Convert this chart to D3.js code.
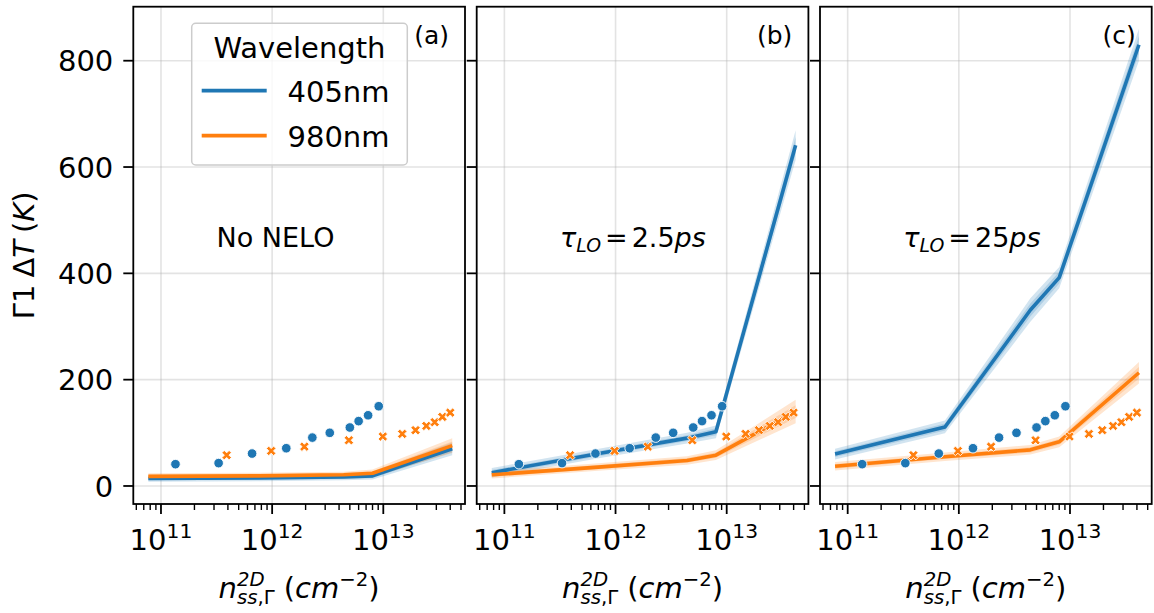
<!DOCTYPE html>
<html>
<head>
<meta charset="utf-8">
<script src="https://cdn.jsdelivr.net/npm/d3@7"></script>
<style>
  html, body { margin: 0; padding: 0; background: #fff; }
  svg { display: block; font-family: "DejaVu Sans", sans-serif; }
  text { fill: #000; }
</style>
</head>
<body>
<svg id="chart" width="1154" height="613"></svg>
<script>
// ---------------- data ----------------
const panelLabels = ["(a)", "(b)", "(c)"];
const wavelengths = ["405nm", "980nm"];
const colors = ["#1f77b4", "#ff7f0e"];
const yTicks = [0, 200, 400, 600, 800];
const xTicks = [1e11, 1e12, 1e13];
const xTickExp = ["11", "12", "13"];

// simulated densities (x of the model lines)
const simDensity = [7.7e10, 7.5e11, 4.4e12, 8.0e12, 4.17e13];
// panel (a) No NELO
const simA405 = [14, 15, 17, 19, 70];
const simA980 = [18, 19, 21, 24, 76];
const ciA405 = [6, 6, 6, 7, 12];
const ciA980 = [6, 6, 6, 7, 14];
// panel (b) tau_LO = 2.5 ps
const simB405 = [25, 62, 90, 102, 641];
const simB980 = [21, 36, 48, 58, 140];
const ciB405 = [9, 9, 10, 12, 28];
const ciB980 = [7, 7, 8, 9, 22];
// panel (c) tau_LO = 25 ps
const simC405 = [60, 111, 331, 392, 830];
const simC980 = [37, 55, 68, 83, 213];
const ciC405 = [10, 12, 22, 20, 30];
const ciC980 = [8, 8, 9, 10, 20];

// experimental points
const exp405X = [1.35e11, 3.3e11, 6.6e11, 1.34e12, 2.3e12, 3.3e12, 5.0e12, 6.0e12, 7.3e12, 9.1e12];
const exp405Y = [41, 43, 61, 71, 91, 100, 110, 122, 133, 150];
const exp980X = [3.9e11, 9.8e11, 1.95e12, 4.9e12, 9.9e12, 1.48e13, 1.95e13, 2.44e13, 2.9e13, 3.4e13, 4.0e13];
const exp980Y = [58, 66, 74, 86, 93, 98, 105, 113, 120, 130, 138];

// ---------------- layout ----------------
const svg = d3.select("#chart");
const panelLeft = [133.3, 476.7, 820];
const panelW = 331.7;
const plotTop = 6.7, plotBottom = 504;
const fsTick = 29, fsLabel = 29, fsAnnot = 27, fsPanel = 25;

const y = d3.scaleLinear().domain([-33.9, 901.6]).range([plotBottom, plotTop]);

// math-like text helper: one <text>, pieces as positioned tspans (sub/sup can stack)
function mathText(parent, pieces, size) {
  const grp = parent.append("g");
  const txt = grp.append("text");
  let cx = 0, prevStart = 0, prevW = 0;
  pieces.forEach(p => {
    const fs = size * (p.s || 1);
    const start = p.stack ? prevStart : cx + (p.gap || 0);
    const ts = txt.append("tspan")
      .attr("font-size", fs)
      .attr("x", start)
      .attr("y", (p.dy || 0) * size);
    const segs = Array.isArray(p.t) ? p.t : [[p.t, !!p.i]];
    segs.forEach(([str, it]) => {
      ts.append("tspan").attr("font-style", it ? "italic" : "normal").text(str);
    });
    const w = ts.node().getComputedTextLength();
    if (p.stack) {
      cx = prevStart + Math.max(prevW, w);
    } else {
      prevStart = start; prevW = w; cx = start + w;
    }
  });
  return { g: grp, width: cx };
}

const sims405 = [simA405, simB405, simC405];
const sims980 = [simA980, simB980, simC980];
const cis405 = [ciA405, ciB405, ciC405];
const cis980 = [ciA980, ciB980, ciC980];

panelLeft.forEach((left, pi) => {
  const x = d3.scaleLog().domain([Math.pow(10, 10.751), Math.pow(10, 13.735)]).range([left, left + panelW]);
  const g = svg.append("g");

  const clipId = "clip" + pi;
  svg.append("clipPath").attr("id", clipId).append("rect")
    .attr("x", left).attr("y", plotTop).attr("width", panelW).attr("height", plotBottom - plotTop);

  // grid
  const grid = g.append("g").attr("stroke", "#b0b0b0").attr("stroke-opacity", 0.35).attr("stroke-width", 1.6);
  xTicks.forEach(t => grid.append("line").attr("x1", x(t)).attr("x2", x(t)).attr("y1", plotTop).attr("y2", plotBottom));
  yTicks.forEach(t => grid.append("line").attr("x1", left).attr("x2", left + panelW).attr("y1", y(t)).attr("y2", y(t)));

  const plot = g.append("g").attr("clip-path", `url(#${clipId})`);

  const series = [
    { v: sims405[pi], c: cis405[pi], col: colors[0] },
    { v: sims980[pi], c: cis980[pi], col: colors[1] }
  ];
  const area = (f) => d3.area()
    .x(d => x(d.x)).y0(d => y(d.v - d.c * f)).y1(d => y(d.v + d.c * f));
  const line = d3.line().x(d => x(d.x)).y(d => y(d.v));

  series.forEach(s => {
    const pts = simDensity.map((d, i) => ({ x: d, v: s.v[i], c: s.c[i] }));
    plot.append("path").attr("d", area(1)(pts)).attr("fill", s.col).attr("fill-opacity", 0.2);
    plot.append("path").attr("d", area(0.55)(pts)).attr("fill", s.col).attr("fill-opacity", 0.2);
  });
  series.forEach(s => {
    const pts = simDensity.map((d, i) => ({ x: d, v: s.v[i] }));
    plot.append("path").attr("d", line(pts)).attr("fill", "none")
      .attr("stroke", s.col).attr("stroke-width", 3.6).attr("stroke-linejoin", "round");
  });

  // experimental scatter
  exp405X.forEach((xv, i) => {
    plot.append("circle").attr("cx", x(xv)).attr("cy", y(exp405Y[i])).attr("r", 4.8)
      .attr("fill", colors[0]).attr("stroke", "#fff").attr("stroke-width", 0.9);
  });
  const r = 5.1, t = 1.65;
  const cross = [[-t,-r],[t,-r],[t,-t],[r,-t],[r,t],[t,t],[t,r],[-t,r],[-t,t],[-r,t],[-r,-t],[-t,-t]];
  const xPath = "M" + cross.map(([a, b]) => {
    const c = Math.SQRT1_2;
    return [(a - b) * c, (a + b) * c].map(v => v.toFixed(2)).join(",");
  }).join("L") + "Z";
  exp980X.forEach((xv, i) => {
    plot.append("path").attr("d", xPath)
      .attr("transform", `translate(${x(xv)},${y(exp980Y[i])})`)
      .attr("fill", colors[1]).attr("stroke", "#fff").attr("stroke-width", 0.9);
  });

  // spines
  g.append("rect").attr("x", left).attr("y", plotTop).attr("width", panelW).attr("height", plotBottom - plotTop)
    .attr("fill", "none").attr("stroke", "#000").attr("stroke-width", 1.8);

  // y ticks
  yTicks.forEach(tv => {
    g.append("line").attr("x1", left - 10).attr("x2", left).attr("y1", y(tv)).attr("y2", y(tv))
      .attr("stroke", "#000").attr("stroke-width", 1.8);
    if (pi === 0) {
      g.append("text").attr("x", left - 20).attr("y", y(tv)).attr("dy", "0.365em")
        .attr("text-anchor", "end").attr("font-size", fsTick).text(tv);
    }
  });

  // x ticks (major + minor)
  const [d0, d1] = x.domain();
  for (let e = 10; e <= 13; e++) {
    for (let m = 1; m <= 9; m++) {
      const v = m * Math.pow(10, e);
      if (v < d0 || v > d1) continue;
      const major = m === 1;
      g.append("line").attr("x1", x(v)).attr("x2", x(v)).attr("y1", plotBottom).attr("y2", plotBottom + (major ? 10 : 6))
        .attr("stroke", "#000").attr("stroke-width", major ? 1.8 : 1.4);
    }
  }
  xTicks.forEach((tv, i) => {
    const m = mathText(g, [
      { t: "10" },
      { t: xTickExp[i], s: 0.7, dy: -0.4 }
    ], fsTick);
    m.g.attr("transform", `translate(${x(tv) - m.width / 2},${549.5})`);
  });

  // x label
  const xl = mathText(g, [
    { t: "n", i: true },
    { t: "2D", i: true, s: 0.68, dy: -0.4 },
    { t: [["ss", true], [",", false], ["\u0393", false]], s: 0.68, dy: 0.2, stack: true },
    { t: "(", gap: 9 },
    { t: "cm", i: true },
    { t: "\u22122", s: 0.68, dy: -0.42 },
    { t: ")" }
  ], fsLabel);
  xl.g.attr("transform", `translate(${left + panelW / 2 - xl.width / 2},598)`);

  // panel label
  g.append("text").attr("x", left + panelW - 16).attr("y", 44).attr("text-anchor", "end")
    .attr("font-size", fsPanel).text(panelLabels[pi]);

  // annotation
  const ax = x(Math.pow(10, 11.5)), ay = y(450);
  if (pi === 0) {
    g.append("text").attr("x", ax).attr("y", ay).attr("font-size", fsAnnot).text("No NELO");
  } else {
    const val = pi === 1 ? "2.5" : "25";
    const m = mathText(g, [
      { t: "\u03c4", i: true },
      { t: "LO", i: true, s: 0.7, dy: 0.2 },
      { t: "=", gap: 4 },
      { t: val, gap: 4 },
      { t: "ps", i: true }
    ], fsAnnot);
    m.g.attr("transform", `translate(${ax},${ay})`);
  }

  // legend in panel (a)
  if (pi === 0) {
    const lg = g.append("g");
    lg.append("rect").attr("x", 191.7).attr("y", 23.3).attr("width", 215.6).attr("height", 141.7)
      .attr("rx", 4).attr("fill", "#fff").attr("fill-opacity", 0.8)
      .attr("stroke", "#cccccc").attr("stroke-width", 1.5);
    lg.append("text").attr("x", 299.5).attr("y", 58.3).attr("text-anchor", "middle")
      .attr("font-size", fsLabel).text("Wavelength");
    wavelengths.forEach((w, i) => {
      const ly = 90.7 + i * 45;
      lg.append("line").attr("x1", 201.7).attr("x2", 266.7).attr("y1", ly).attr("y2", ly)
        .attr("stroke", colors[i]).attr("stroke-width", 3.8);
      lg.append("text").attr("x", 287.5).attr("y", ly + 11).attr("font-size", fsLabel).text(w);
    });
  }
});

// y label
const yl = mathText(svg, [
  { t: "\u0393" },
  { t: "1" },
  { t: "\u0394", gap: 7 },
  { t: "T", i: true },
  { t: "(", gap: 7 },
  { t: "K", i: true },
  { t: ")" }
], fsLabel);
yl.g.attr("transform", `translate(33.5,${255.3 + yl.width / 2}) rotate(-90)`);
</script>
</body>
</html>
